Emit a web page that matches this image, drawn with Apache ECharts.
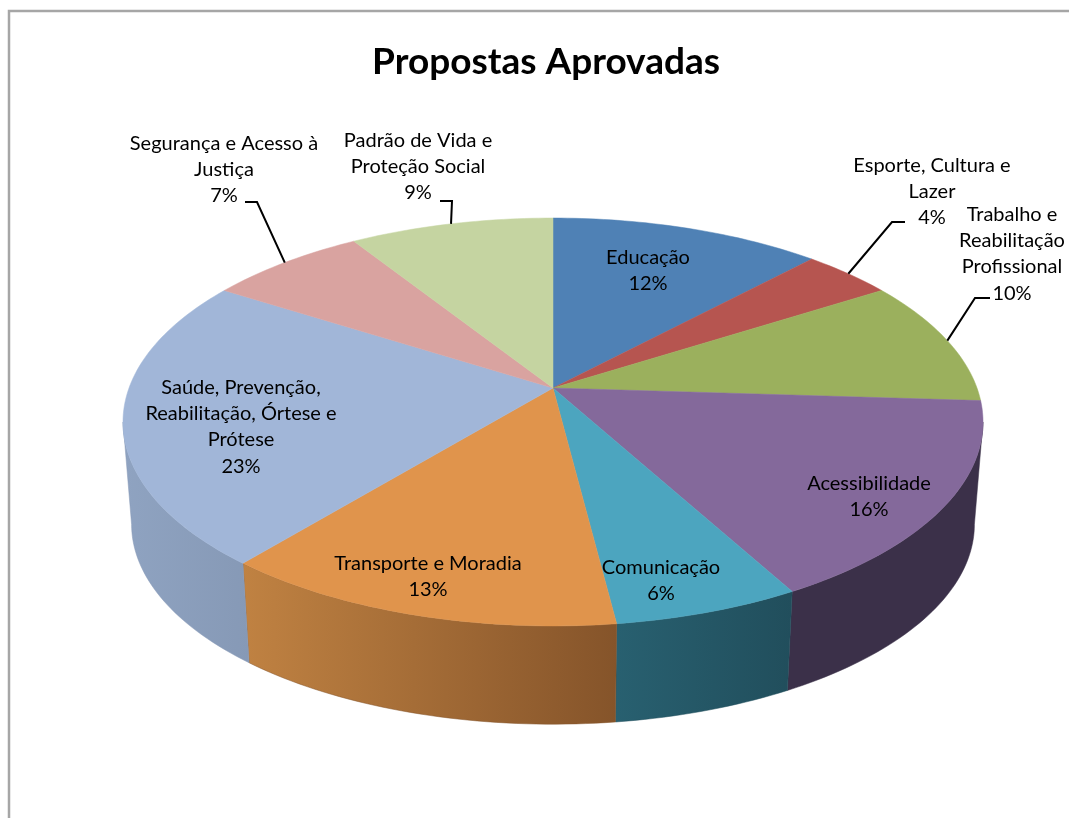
<!DOCTYPE html>
<html lang="pt">
<head>
<meta charset="utf-8">
<title>Propostas Aprovadas</title>
<script src="https://cdn.jsdelivr.net/npm/echarts@6/dist/echarts.min.js"></script>
<style>
  html, body { margin: 0; padding: 0; background: #fff; }
  #chart { width: 1069px; height: 818px; }
</style>
</head>
<body>
<div id="chart"></div>
<script>
// Share of approved proposals by theme, clockwise from twelve o'clock.
const categories = [
  'Educação',
  'Esporte, Cultura e Lazer',
  'Trabalho e Reabilitação Profissional',
  'Acessibilidade',
  'Comunicação',
  'Transporte e Moradia',
  'Saúde, Prevenção, Reabilitação, Órtese e Prótese',
  'Segurança e Acesso à Justiça',
  'Padrão de Vida e Proteção Social'
];
const shares = [12, 4, 10, 16, 6, 13, 23, 7, 9];

// Wrapped label text for each slice.
const labelLines = [
  ['Educação'],
  ['Esporte, Cultura e', 'Lazer'],
  ['Trabalho e', 'Reabilitação', 'Profissional'],
  ['Acessibilidade'],
  ['Comunicação'],
  ['Transporte e Moradia'],
  ['Saúde, Prevenção,', 'Reabilitação, Órtese e', 'Prótese'],
  ['Segurança e Acesso à', 'Justiça'],
  ['Padrão de Vida e', 'Proteção Social']
];

const topColors = ['#4f81b5', '#b65550', '#9bb05d', '#84699b', '#4ca5bf', '#e0944c', '#a1b6d8', '#d9a3a0', '#c5d4a1'];
const wallFrom  = ['#3c628a', '#8a3f3b', '#76864a', '#3b3049', '#286070', '#c08242', '#8fa3c1', '#a67c7a', '#98a37c'];
const wallTo    = ['#3c628a', '#8a3f3b', '#76864a', '#3b3049', '#214e5c', '#85542a', '#8699b6', '#a67c7a', '#98a37c'];

// Label anchor (centre x, first line centre y) and, for outside labels, the leader's elbow.
const labelLayout = [
  { x: 648, y: 257 },
  { x: 932, y: 165, from: [905, 222], elbow: [892, 222] },
  { x: 1012, y: 214, from: [990, 298], elbow: [975, 298] },
  { x: 869, y: 483 },
  { x: 661, y: 567 },
  { x: 428, y: 563 },
  { x: 241, y: 387 },
  { x: 224, y: 143, from: [245, 202], elbow: [257, 202] },
  { x: 418, y: 140, from: [440, 201], elbow: [452, 201] }
];

// Perspective projection of the disc onto the page.
const view = { apexX: 553, apexY: 388, rx: 424, ry: 198.3, k: 1 / 6, dropY: 103, floorScale: 0.98 };
const total = shares.reduce((a, b) => a + b, 0);
const TAU = Math.PI * 2;

function rim(theta, floor) {
  const w = 1 + view.k * Math.cos(theta);
  const s = floor ? view.floorScale : 1;
  return [
    view.apexX + s * view.rx * Math.sin(theta) / w,
    view.apexY + (floor ? view.dropY : 0) - s * view.ry * Math.cos(theta) / w
  ];
}

function arcPoints(a0, a1, floor) {
  const n = Math.max(2, Math.ceil(Math.abs(a1 - a0) / 0.02));
  const pts = [];
  for (let i = 0; i <= n; i++) pts.push(rim(a0 + (a1 - a0) * i / n, floor));
  return pts;
}

// The side wall faces the viewer only between these two angles.
const wallStart = Math.acos(-view.k);
const wallEnd = TAU - wallStart;

function renderSlice(params, api) {
  const i = params.dataIndex;
  const before = shares.slice(0, i).reduce((a, b) => a + b, 0);
  const a0 = before / total * TAU;
  const a1 = (before + api.value(0)) / total * TAU;
  const mid = (a0 + a1) / 2;
  const children = [];

  const w0 = Math.max(a0, wallStart);
  const w1 = Math.min(a1, wallEnd);
  if (w1 > w0) {
    const pts = arcPoints(w0, w1, false).concat(arcPoints(w1, w0, true));
    children.push({
      type: 'polygon',
      z2: 1,
      shape: { points: pts },
      style: {
        fill: { type: 'linear', x: 0, y: 0, x2: 1, y2: 0, colorStops: [
          { offset: 0, color: wallFrom[i] }, { offset: 1, color: wallTo[i] }
        ] },
        stroke: wallTo[i],
        lineWidth: 0.5
      }
    });
  }

  children.push({
    type: 'polygon',
    z2: 2,
    shape: { points: [[view.apexX, view.apexY]].concat(arcPoints(a0, a1, false)) },
    style: { fill: topColors[i], stroke: topColors[i], lineWidth: 0.5 }
  });

  const place = labelLayout[i];
  if (place.from) {
    children.push({
      type: 'polyline',
      z2: 3,
      shape: { points: [place.from, place.elbow, rim(mid, false)] },
      style: { fill: null, stroke: '#000', lineWidth: 2 }
    });
  }
  children.push({
    type: 'text',
    z2: 4,
    style: {
      x: place.x,
      y: place.y - 13,
      text: labelLines[i].concat(api.value(0) + '%').join('\n'),
      fill: '#000',
      font: '20px Lato, sans-serif',
      lineHeight: 26.4,
      align: 'center',
      verticalAlign: 'top'
    }
  });
  return { type: 'group', children };
}

const chart = echarts.init(document.getElementById('chart'), null, { renderer: 'canvas' });
chart.setOption({
  animation: false,
  backgroundColor: '#ffffff',
  title: {
    text: 'Propostas Aprovadas',
    left: 541,
    top: 39,
    textAlign: 'center',
    textStyle: { fontFamily: 'Lato, sans-serif', fontWeight: 'bold', fontSize: 37, color: '#000' }
  },
  graphic: [{
    type: 'rect',
    silent: true,
    shape: { x: 9, y: 11, width: 1200, height: 1000 },
    style: { fill: null, stroke: '#a6a6a6', lineWidth: 2.5 }
  }],
  series: [{
    type: 'custom',
    coordinateSystem: 'none',
    renderItem: renderSlice,
    data: shares.map((v, i) => ({ name: categories[i], value: [v] })),
    silent: true
  }]
});
</script>
</body>
</html>
